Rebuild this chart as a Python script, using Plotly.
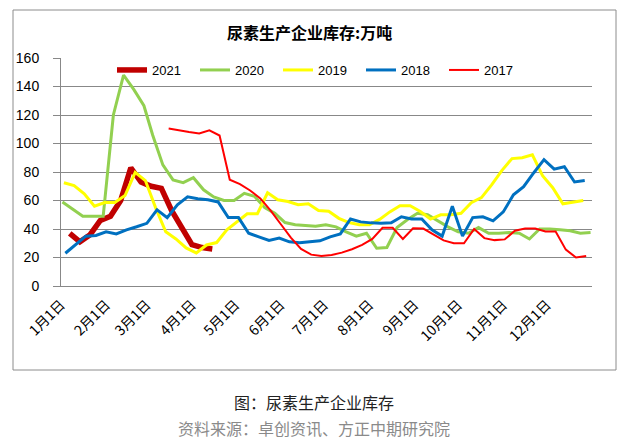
import pandas as pd
import plotly.graph_objects as go

# ---------------- data ----------------
title_text = "尿素生产企业库存:万吨"
caption_text = "图：尿素生产企业库存"
source_text = "资料来源：卓创资讯、方正中期研究院"

month_labels = ["1月1日", "2月1日", "3月1日", "4月1日", "5月1日", "6月1日",
                "7月1日", "8月1日", "9月1日", "10月1日", "11月1日", "12月1日"]

series_names = ["2021", "2020", "2019", "2018", "2017"]
series_start = ["2021-01-07", "2020-01-02", "2019-01-03", "2018-01-04", "2017-03-16"]

v2021 = [37, 31, 36, 46, 49, 60, 83, 73, 70, 68.5, 53, 41, 29, 27, 26]
v2020 = [59, 54, 49, 49, 49, 120, 148, 138, 126.5, 106, 85, 74.5, 72.5, 76, 67.5,
         62.5, 60, 60, 65, 63, 55, 51, 44.5, 43, 42.3, 42, 43, 41.5, 38, 35, 37,
         26.5, 27, 41, 46.5, 51, 50, 45.5, 41.5, 38, 37, 41, 37, 37, 37.5, 37, 33,
         40, 40, 39.4, 38.7, 37, 37.5]
v2019 = [72.5, 70.4, 64.7, 56, 58.6, 58.6, 63.5, 79.7, 74, 55, 38, 33, 26.7, 23.2,
         28.8, 30.5, 39.4, 45, 50.7, 50.7, 65.4, 60.5, 59.3, 57, 57.7, 53, 52.5, 47.5,
         44.5, 43, 43, 46.7, 52, 56.3, 56.3, 52.3, 47, 50, 50, 51, 58.4, 62, 71, 81,
         89.4, 90, 92, 77.4, 69, 57.7, 58.6, 60]
v2018 = [23, 29, 35, 35.5, 38, 36.6, 39.4, 41.6, 44, 53.5, 48, 57, 62.6, 61.2, 60.5,
         59, 48, 48, 37, 34.5, 32, 33.6, 31, 30.3, 31, 31.7, 34.5, 36.6, 47, 45, 44.3,
         44, 44.3, 48.6, 47, 47, 39.4, 35, 56, 35, 48, 48.6, 45.7, 52, 64, 69.7, 79.5,
         88.7, 82, 83.7, 73, 74]
v2017 = [110.5, 109, 108, 107, 109.3, 105.6, 74.6, 71.5, 67, 61.5, 53, 43.5, 34, 26,
         22, 21, 21.8, 23.4, 25.8, 28.8, 33, 40.8, 40.8, 33, 40.5, 40.3, 36.3, 32, 30,
         30, 40, 33.6, 32.2, 32.7, 38.8, 40.3, 40.3, 38.2, 38.2, 25.5, 20, 21]
series_values = [v2021, v2020, v2019, v2018, v2017]

# ---------------- styles ----------------
colors = ["#C00000", "#92D050", "#FFFF00", "#0070C0", "#FF0000"]
widths = [5.5, 3, 3, 3, 2]

W, H = 618, 441
PL, PR, PT, PB = 61, 592, 58, 286  # plot area in pixels
BASE_YEAR = 2001


def px_x(p):
    return (p - PL) / (PR - PL)


def px_y(p):
    return (PB - p) / (PB - PT)


def weekly_dates(start, n):
    d = pd.date_range(start, periods=n, freq="7D")
    return [x.replace(year=BASE_YEAR) for x in d]


fig = go.Figure()
for name, start, vals, c, w in zip(series_names, series_start, series_values, colors, widths):
    fig.add_trace(go.Scatter(
        x=weekly_dates(start, len(vals)), y=vals, name=name, mode="lines",
        line=dict(color=c, width=w),
    ))

tickvals = [pd.Timestamp(BASE_YEAR, m, 1) for m in range(1, 13)]

grid = "#888888"
fig.update_layout(
    width=W, height=H,
    margin=dict(l=PL, r=W - PR, t=PT, b=H - PB, pad=0),
    paper_bgcolor="white", plot_bgcolor="white",
    font=dict(family="Liberation Sans, Arial, sans-serif", color="black", size=13),
    showlegend=True,
    legend=dict(orientation="h", x=px_x(112), y=px_y(55), xanchor="left", yanchor="top",
                font=dict(size=13, family="Liberation Sans, Arial, sans-serif"),
                bgcolor="rgba(0,0,0,0)", entrywidth=38, entrywidthmode="pixels",
                itemwidth=30, tracegroupgap=0),
    xaxis=dict(type="date",
               range=[pd.Timestamp(BASE_YEAR, 1, 1), pd.Timestamp(BASE_YEAR + 1, 1, 1)],
               tickvals=tickvals, ticktext=month_labels, tickangle=-45,
               tickfont=dict(size=14, family="Noto Sans CJK SC, sans-serif"),
               ticklabelstandoff=4,
               showgrid=False, zeroline=False, showline=True, linecolor=grid, linewidth=1,
               ticks="", fixedrange=True),
    yaxis=dict(range=[0, 160], dtick=20, tick0=0, showgrid=True, gridcolor=grid, gridwidth=1,
               zeroline=False, showline=True, linecolor=grid, linewidth=1,
               ticks="outside", ticklen=7, tickcolor=grid, ticklabelstandoff=11,
               tickfont=dict(size=14, family="Liberation Sans, Arial, sans-serif"),
               fixedrange=True),
)

# outer chart border
fig.add_shape(type="rect", xref="paper", yref="paper",
              x0=px_x(13), x1=px_x(616), y0=px_y(370), y1=px_y(10),
              line=dict(color="#8c8c8c", width=1), fillcolor="rgba(0,0,0,0)", layer="below")

fig.add_annotation(text="<b>" + title_text + "</b>", xref="paper", yref="paper",
                   x=px_x(309), y=px_y(32), xanchor="center", yanchor="middle", showarrow=False,
                   font=dict(size=16, family="Noto Sans CJK SC, sans-serif", color="black"))
fig.add_annotation(text=caption_text, xref="paper", yref="paper",
                   x=px_x(314), y=px_y(402), xanchor="center", yanchor="middle", showarrow=False,
                   font=dict(size=16, family="Noto Sans CJK SC, sans-serif", color="#222222"))
fig.add_annotation(text=source_text, xref="paper", yref="paper",
                   x=px_x(314), y=px_y(428), xanchor="center", yanchor="middle", showarrow=False,
                   font=dict(size=16, family="Noto Sans CJK SC, sans-serif", color="#8a8a8a"))

fig.write_html("out.html", config={"displayModeBar": False},
               post_script="document.body.style.margin='0';")
